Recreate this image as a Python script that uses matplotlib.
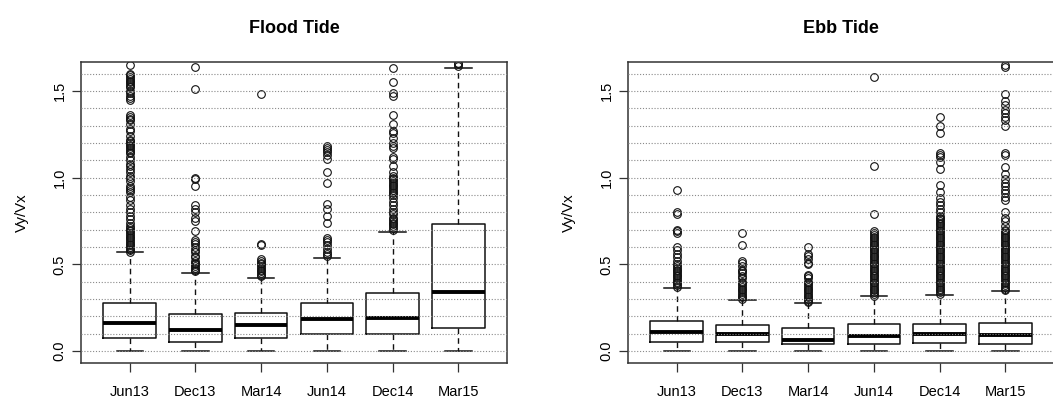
import numpy as np
import matplotlib.pyplot as plt

plt.rcParams['font.family'] = ['Liberation Sans', 'DejaVu Sans']

months = ['Jun13', 'Dec13', 'Mar14', 'Jun14', 'Dec14', 'Mar15']

# flood tide: box stats
flood_q1 = [0.077, 0.054, 0.077, 0.096, 0.096, 0.131]
flood_med = [0.160, 0.121, 0.150, 0.183, 0.188, 0.342]
flood_q3 = [0.275, 0.215, 0.221, 0.275, 0.337, 0.733]
flood_lo = [0.0, 0.0, 0.0, 0.0, 0.0, 0.0]
flood_hi = [0.570, 0.452, 0.419, 0.538, 0.688, 1.630]
flood_out = [
    [1.65, 1.60, 1.59, 1.58, 1.57, 1.56, 1.55, 1.54, 1.53, 1.52, 1.50, 1.49, 1.47, 1.46, 1.45,
     1.36, 1.35, 1.34, 1.33, 1.31, 1.28, 1.27, 1.24, 1.22, 1.21, 1.20, 1.19, 1.18, 1.17, 1.16,
     1.15, 1.14, 1.12, 1.10, 1.08, 1.07, 1.05, 1.03, 1.01, 1.00, 0.98, 0.95, 0.94, 0.93, 0.92,
     0.89, 0.87, 0.84, 0.82, 0.80, 0.78, 0.76, 0.74, 0.72, 0.71, 0.70, 0.69, 0.68, 0.67, 0.66,
     0.65, 0.64, 0.63, 0.62, 0.61, 0.60, 0.59, 0.58, 0.57],
    [1.64, 1.51, 1.00, 0.99, 0.95, 0.84, 0.82, 0.80, 0.77, 0.75, 0.69, 0.64, 0.63, 0.62, 0.60,
     0.58, 0.57, 0.55, 0.54, 0.52, 0.51, 0.50, 0.49, 0.48, 0.47, 0.46],
    [1.48, 0.62, 0.61, 0.53, 0.52, 0.51, 0.50, 0.49, 0.48, 0.47, 0.46, 0.45, 0.44, 0.43],
    [1.18, 1.17, 1.16, 1.15, 1.13, 1.11, 1.03, 0.97, 0.85, 0.82, 0.78, 0.74, 0.65, 0.64, 0.63,
     0.61, 0.59, 0.57, 0.56, 0.55],
    [1.63, 1.55, 1.49, 1.47, 1.36, 1.31, 1.27, 1.26, 1.23, 1.20, 1.18, 1.17, 1.12, 1.11, 1.07,
     1.03, 1.01, 1.00, 0.99, 0.98, 0.97, 0.96, 0.95, 0.94, 0.93, 0.92, 0.91, 0.90, 0.88, 0.86,
     0.84, 0.82, 0.80, 0.79, 0.77, 0.76, 0.75, 0.74, 0.73, 0.72, 0.71, 0.70],
    [1.66, 1.655, 1.645],
]

# ebb tide
ebb_q1 = [0.054, 0.054, 0.038, 0.038, 0.048, 0.042]
ebb_med = [0.110, 0.100, 0.065, 0.088, 0.096, 0.090]
ebb_q3 = [0.175, 0.148, 0.131, 0.154, 0.158, 0.163]
ebb_lo = [0.0, 0.0, 0.0, 0.0, 0.0, 0.0]
ebb_hi = [0.365, 0.292, 0.275, 0.319, 0.325, 0.346]
ebb_out = [
    [0.93, 0.80, 0.79, 0.70, 0.69, 0.68, 0.60, 0.58, 0.56, 0.54, 0.52, 0.50, 0.49, 0.48, 0.47,
     0.46, 0.45, 0.44, 0.43, 0.42, 0.41, 0.40, 0.39, 0.38, 0.37],
    [0.68, 0.61, 0.52, 0.51, 0.49, 0.47, 0.46, 0.45, 0.43, 0.42, 0.40, 0.39, 0.38, 0.37, 0.36,
     0.35, 0.34, 0.33, 0.32, 0.31, 0.30],
    [0.60, 0.56, 0.55, 0.53, 0.51, 0.50, 0.44, 0.43, 0.42, 0.40, 0.39, 0.38, 0.37, 0.36, 0.35,
     0.34, 0.33, 0.32, 0.31, 0.30, 0.29, 0.28],
    [1.58, 1.07, 0.79, 0.69, 0.68, 0.67, 0.66, 0.65, 0.64, 0.63, 0.62, 0.61, 0.60, 0.59, 0.58,
     0.57, 0.56, 0.55, 0.54, 0.53, 0.52, 0.51, 0.50, 0.49, 0.48, 0.47, 0.46, 0.45, 0.44, 0.43,
     0.42, 0.41, 0.40, 0.39, 0.38, 0.37, 0.36, 0.35, 0.34, 0.33, 0.32],
    [1.35, 1.30, 1.26, 1.14, 1.13, 1.12, 1.09, 1.05, 0.96, 0.92, 0.88, 0.86, 0.84, 0.82, 0.80,
     0.78, 0.77, 0.76, 0.75, 0.74, 0.73, 0.72, 0.71, 0.70, 0.69, 0.68, 0.67, 0.66, 0.65, 0.64,
     0.63, 0.62, 0.61, 0.60, 0.59, 0.58, 0.57, 0.56, 0.55, 0.54, 0.53, 0.52, 0.51, 0.50, 0.49,
     0.48, 0.47, 0.46, 0.45, 0.44, 0.43, 0.42, 0.41, 0.40, 0.39, 0.38, 0.37, 0.36, 0.35, 0.34,
     0.33],
    [1.65, 1.64, 1.48, 1.44, 1.42, 1.39, 1.37, 1.35, 1.33, 1.30, 1.14, 1.13, 1.06, 1.02, 0.99,
     0.97, 0.95, 0.93, 0.91, 0.89, 0.87, 0.80, 0.77, 0.75, 0.72, 0.70, 0.69, 0.68, 0.67, 0.66,
     0.65, 0.64, 0.63, 0.62, 0.61, 0.60, 0.59, 0.58, 0.57, 0.56, 0.55, 0.54, 0.53, 0.52, 0.51,
     0.50, 0.49, 0.48, 0.47, 0.46, 0.45, 0.44, 0.43, 0.42, 0.41, 0.40, 0.39, 0.38, 0.37, 0.36,
     0.35],
]


def draw(ax, title, q1, med, q3, lo, hi, out):
    stats = []
    for i in range(len(months)):
        stats.append(dict(med=med[i], q1=q1[i], q3=q3[i], whislo=lo[i], whishi=hi[i],
                          fliers=out[i], label=months[i]))
    ax.bxp(stats, positions=range(1, 7), widths=0.8, capwidths=0.4,
           boxprops=dict(color='#111111', lw=1.1),
           medianprops=dict(color='black', lw=2.8, solid_capstyle='butt'),
           whiskerprops=dict(color='#111111', lw=1.0, linestyle=(0, (4, 3))),
           capprops=dict(color='#111111', lw=1.1),
           flierprops=dict(marker='o', markerfacecolor='none', markeredgecolor='#111111',
                           markersize=5.5, markeredgewidth=0.8))
    # R-style grid: dotted lines every 0.1, drawn on top of the boxes
    for g in np.arange(0, 1.65, 0.1):
        ax.axhline(g, color='#8a8a8a', lw=0.8, linestyle=(0, (1, 1.6)), zorder=5)
    ax.set_xlim(0.26, 6.74)
    ax.set_ylim(-0.069, 1.667)
    ax.set_yticks([0.0, 0.5, 1.0, 1.5])
    ax.set_yticklabels(['0.0', '0.5', '1.0', '1.5'], rotation=90, va='center')
    ax.tick_params(direction='out', length=6.5, width=0.9, color='#333333', labelsize=10.5,
                   pad=4)
    ax.tick_params(axis='x', pad=9)
    for s in ax.spines.values():
        s.set_color('#333333')
        s.set_linewidth(1.1)
    ax.set_ylabel('Vy/Vx', fontsize=10.8, labelpad=17)
    ax.set_title(title, fontsize=13, fontweight='bold', pad=21)


fig = plt.figure(figsize=(10.53, 3.97), dpi=100)
ax1 = fig.add_axes([81 / 1053, 1 - 363 / 397, 426 / 1053, 301 / 397])
ax2 = fig.add_axes([628 / 1053, 1 - 363 / 397, 426 / 1053, 301 / 397])
draw(ax1, 'Flood Tide', flood_q1, flood_med, flood_q3, flood_lo, flood_hi, flood_out)
draw(ax2, 'Ebb Tide', ebb_q1, ebb_med, ebb_q3, ebb_lo, ebb_hi, ebb_out)

fig.savefig('out.png', dpi=100)
